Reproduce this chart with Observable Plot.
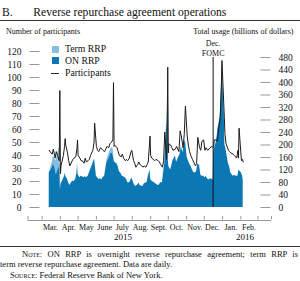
<!DOCTYPE html>
<html><head><meta charset="utf-8">
<script src="https://cdn.jsdelivr.net/npm/d3@7"></script>
<script src="https://cdn.jsdelivr.net/npm/@observablehq/plot@0.6"></script>
<style>
body{margin:0;background:#fff;font-family:"Liberation Serif","Times New Roman",serif;color:#111}
#wrap{position:relative;width:300px;height:281px;overflow:hidden;background:#fff}
#chart{position:absolute;left:0;top:0}
.abs{position:absolute;white-space:nowrap;line-height:1}
#title{left:2px;top:4.5px;font-size:13.5px;transform:scaleX(0.86);transform-origin:left center}
#topRule{position:absolute;left:0;top:20px;width:300px;border-top:1.6px solid #333}
.axt{font-size:8px;top:28px}
.sw{position:absolute;width:7px;height:7px}
.lg{font-size:9.7px}
#sep{position:absolute;left:0;top:246px;width:300px;border-top:1px solid #333}
#notes{position:absolute;left:0;top:249px;width:298px;font-size:8.5px;line-height:10.3px}
#notes .j{text-align:justify;text-align-last:justify;text-indent:22px}
#notes .s{text-indent:10px}
.sc{font-variant:small-caps}
</style></head>
<body><div id="wrap">
<div id="title" class="abs">B.<span style="display:inline-block;width:24px"></span>Reverse repurchase agreement operations</div>
<div id="topRule"></div>
<div class="abs axt" style="left:6px">Number of participants</div>
<div class="abs axt" style="right:6.5px">Total usage (billions of dollars)</div>
<div id="chart"></div>
<div class="sw" style="left:51.5px;top:45.5px;background:#86bde3"></div>
<div class="abs lg" style="left:65px;top:44px">Term RRP</div>
<div class="sw" style="left:51.5px;top:57px;background:#0b77b3"></div>
<div class="abs lg" style="left:65px;top:55.5px">ON RRP</div>
<div style="position:absolute;left:50.5px;top:72.5px;width:8px;border-top:1.8px solid #222"></div>
<div class="abs lg" style="left:65px;top:68px">Participants</div>
<div id="sep"></div>
<div id="notes"><div class="j"><span class="sc">Note</span>: ON RRP is overnight reverse repurchase agreement; term RRP is</div><div>term reverse repurchase agreement. Data are daily.</div><div class="s"><span class="sc">Source</span>: Federal Reserve Bank of New York.</div></div>
</div>
<script>
// ---- data ----
const dates = ["2015-03-13","2015-03-16","2015-03-18","2015-03-20","2015-03-23","2015-03-25","2015-03-27","2015-03-30","2015-03-31",
"2015-04-01","2015-04-02","2015-04-06","2015-04-08","2015-04-09","2015-04-10","2015-04-13","2015-04-15","2015-04-17","2015-04-20","2015-04-22","2015-04-24","2015-04-27","2015-04-29","2015-04-30",
"2015-05-01","2015-05-04","2015-05-06","2015-05-08","2015-05-11","2015-05-13","2015-05-15","2015-05-18","2015-05-20","2015-05-22","2015-05-26","2015-05-28","2015-05-29",
"2015-06-01","2015-06-03","2015-06-05","2015-06-08","2015-06-10","2015-06-12","2015-06-15","2015-06-17","2015-06-19","2015-06-22","2015-06-24","2015-06-26","2015-06-29","2015-06-30",
"2015-07-01","2015-07-02","2015-07-06","2015-07-08","2015-07-10","2015-07-13","2015-07-15","2015-07-17","2015-07-20","2015-07-22","2015-07-24","2015-07-27","2015-07-29","2015-07-31",
"2015-08-03","2015-08-05","2015-08-07","2015-08-10","2015-08-12","2015-08-14","2015-08-17","2015-08-19","2015-08-21","2015-08-24","2015-08-26","2015-08-28","2015-08-31",
"2015-09-01","2015-09-03","2015-09-08","2015-09-10","2015-09-14","2015-09-16","2015-09-18","2015-09-21","2015-09-23","2015-09-25","2015-09-28","2015-09-29","2015-09-30",
"2015-10-01","2015-10-02","2015-10-05","2015-10-07","2015-10-09","2015-10-13","2015-10-15","2015-10-19","2015-10-21","2015-10-23","2015-10-26","2015-10-28","2015-10-30",
"2015-11-02","2015-11-04","2015-11-06","2015-11-09","2015-11-11","2015-11-13","2015-11-16","2015-11-18","2015-11-20","2015-11-23","2015-11-25","2015-11-27","2015-11-30",
"2015-12-02","2015-12-04","2015-12-07","2015-12-09","2015-12-11","2015-12-14","2015-12-16","2015-12-17","2015-12-18","2015-12-21","2015-12-23","2015-12-24","2015-12-28","2015-12-30","2015-12-31",
"2016-01-04","2016-01-05","2016-01-07","2016-01-11","2016-01-13","2016-01-15","2016-01-19","2016-01-21","2016-01-25","2016-01-27","2016-01-28","2016-01-29",
"2016-02-02","2016-02-04","2016-02-05"];
const participants = [44,42,41,45,38,43,40,36,90,
26,32,40,47,53,48,42,36,32,35,37,38,39,45,52,
40,38,36,36,34,38,35,36,37,40,44,50,65,
47,44,43,46,45,44,43,45,47,46,49,50,52,96,
47,48,46,43,40,39,41,38,36,37,36,38,42,44,
36,34,31,33,35,33,32,31,32,31,33,35,55,
40,38,36,37,36,35,33,31,36,58,37,50,108,
42,49,48,46,44,45,47,43,59,55,46,56,78,
55,48,43,39,37,35,32,34,54,46,44,51,52,
44,46,44,45,46,47,46,47,52,52,51,55,69,95,113,
69,57,49,44,43,42,41,40,38,44,38,61,
36,37,35];
const onRRP = [111,120,127,140,125,105,115,130,140,
56,75,90,100,110,100,90,78,70,80,85,82,90,110,140,
105,95,100,98,95,99,95,100,110,120,140,150,155,
100,95,90,92,88,95,100,125,145,155,165,175,170,160,
150,145,140,130,115,108,100,98,95,90,80,78,85,95,
80,70,67,72,78,70,68,67,75,78,80,100,120,
90,85,78,75,70,72,80,78,110,140,250,270,360,
150,130,120,135,150,165,145,162,170,195,175,205,215,
160,150,140,130,120,112,110,115,140,135,105,100,100,
95,99,90,88,92,90,88,180,185,206,230,250,290,370,460,
290,200,185,140,130,110,100,102,100,100,110,120,
110,100,88];
const termRRP = [0,10,15,25,30,45,55,60,45,
0,0,0,0,0,0,0,0,0,0,0,0,0,0,0,
0,0,0,0,0,0,0,0,0,0,0,0,0,
0,0,0,0,0,0,0,0,10,15,15,15,20,20,
5,0,0,0,0,0,0,0,0,0,0,0,0,0,
0,0,0,0,0,0,0,0,0,0,0,0,0,
0,0,0,0,0,0,0,0,10,15,20,25,30,
0,0,0,0,0,0,0,0,0,0,0,0,0,
0,0,0,0,0,0,0,0,0,0,0,0,0,
0,0,0,0,0,0,0,0,0,0,0,0,0,10,15,
0,0,0,0,0,0,0,0,0,0,0,0,
0,0,0];
const leftTicks = [0,10,20,30,40,50,60,70,80,90,100,110,120];
const rightTicks = [0,40,80,120,160,200,240,280,320,360,400,440,480];
const monthStarts = ["2015-03-01","2015-04-01","2015-05-01","2015-06-01","2015-07-01","2015-08-01","2015-09-01","2015-10-01","2015-11-01","2015-12-01","2016-01-01","2016-02-01","2016-03-01"];
const monthMids = ["2015-03-15","2015-04-15","2015-05-15","2015-06-15","2015-07-15","2015-08-15","2015-09-15","2015-10-15","2015-11-15","2015-12-15","2016-01-15","2016-02-15"];
const monthNames = ["Jan.","Feb.","Mar.","Apr.","May","June","July","Aug.","Sept.","Oct.","Nov.","Dec."];
const yearLabelDates = ["2015-07-16","2016-02-08"];
const fomcDate = ["2015-12-16"];
const xDomain = ["2015-02-05","2016-03-24"];
const yDomain = [-10, 120];
// right axis: 480 (billions) sits at 115.4 on the participants axis
const usageScale = 115.4 / 480;

const D = s => new Date(s);
const data = dates.map((d, i) => ({
  date: D(d), p: participants[i],
  on: onRRP[i] * usageScale,
  total: (onRRP[i] + termRRP[i]) * usageScale
}));
const xTicks = [D(xDomain[0]), ...monthStarts.map(D), D(xDomain[1])];

const chart = Plot.plot({
  width: 300, height: 246,
  marginTop: 51, marginBottom: 26, marginLeft: 27.5, marginRight: 29,
  x: {type: "utc", domain: xDomain.map(D), label: null},
  y: {domain: yDomain, label: null},
  style: {fontFamily: "'Liberation Serif', 'Times New Roman', serif", fontSize: "9.5px", color: "#111", background: "transparent"},
  marks: [
    Plot.areaY(data, {x: "date", y1: "on", y2: "total", fill: "#86bde3"}),
    Plot.areaY(data, {x: "date", y1: 0, y2: "on", fill: "#0b77b3"}),
    Plot.line(data, {x: "date", y: "p", stroke: "#1c1c1c", strokeWidth: 1}),
    Plot.ruleX(fomcDate.map(D), {x: d => d, y1: 0, y2: 115.4, stroke: "#111", strokeWidth: 1}),
    Plot.text(fomcDate.map(D), {x: d => d, frameAnchor: "top", text: () => "Dec.\nFOMC", lineAnchor: "top", dy: -12, fontSize: 8, lineHeight: 1.2, fill: "#111"}),
    Plot.ruleY([yDomain[0]], {stroke: "#999"}),
    Plot.axisY({anchor: "left", ticks: leftTicks, tickSize: 0, tickPadding: 6.5, label: null, fontSize: 9.5}),
    Plot.axisY({anchor: "left", ticks: leftTicks, tickSize: 10, insetLeft: 12, tickFormat: () => "", label: null, stroke: "#999"}),
    Plot.axisY({anchor: "right", ticks: rightTicks.map(v => v * usageScale), tickFormat: d => String(Math.round(d / usageScale)), tickSize: 0, tickPadding: 7, label: null, fontSize: 9.5}),
    Plot.axisY({anchor: "right", ticks: rightTicks.map(v => v * usageScale), tickSize: 10, insetRight: 11.5, tickFormat: () => "", label: null, stroke: "#999"}),
    Plot.axisX({anchor: "bottom", ticks: xTicks, tickSize: 3.5, insetBottom: 4, tickFormat: () => "", label: null, stroke: "#999"}),
    Plot.axisX({anchor: "bottom", ticks: monthMids.map(D), tickSize: 0, tickPadding: 3.5, tickFormat: d => monthNames[d.getUTCMonth()], label: null, fontSize: 8, letterSpacing: -0.45}),
    Plot.axisX({anchor: "bottom", ticks: yearLabelDates.map(D), tickSize: 0, tickPadding: 13.5, tickFormat: d => String(d.getUTCFullYear()), label: null, fontSize: 9})
  ]
});
document.getElementById("chart").appendChild(chart);
</script>
</body></html>
